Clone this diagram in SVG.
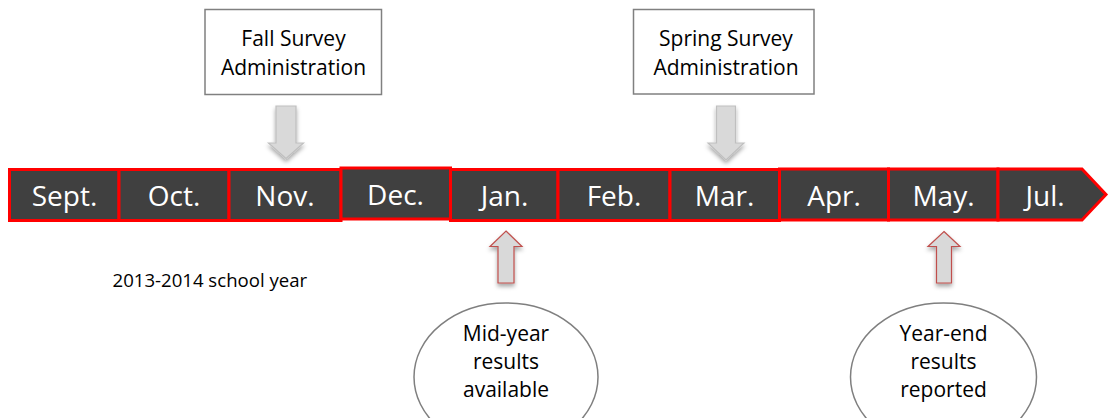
<svg xmlns="http://www.w3.org/2000/svg" width="1115" height="418" viewBox="0 0 1115 418">
  <style>
    .month { fill: #404040; stroke: #ff0000; stroke-width: 3; }
    .mlabel { font-family: "Open Sans", "Liberation Sans", sans-serif; font-size: 28px; fill: #ffffff; text-anchor: middle; }
    .box { fill: #ffffff; stroke: #808080; stroke-width: 1.5; }
    .oval { fill: #ffffff; stroke: #7f7f7f; stroke-width: 1.5; }
    .label { font-family: "Open Sans", "Liberation Sans", sans-serif; font-size: 21px; fill: #000000; text-anchor: middle; }
    .note { font-family: "Open Sans", "Liberation Sans", sans-serif; font-size: 18.6px; fill: #000000; }
    .down { fill: #d9d9d9; stroke: #bfbfbf; stroke-width: 1.2; filter: url(#shadow); }
    .up { fill: #d9d9d9; stroke: #c0504d; stroke-width: 1.2; filter: url(#shadow); }
  </style>
  <defs>
    <filter id="shadow" x="-40%" y="-30%" width="180%" height="170%">
      <feDropShadow dx="0" dy="3" stdDeviation="2" flood-color="#000000" flood-opacity="0.35"/>
    </filter>
  </defs>

  <rect width="1115" height="418" fill="#ffffff"/>

  <!-- timeline band: one segment per month -->
  <g id="timeline">
    <g id="m-sept"><rect class="month" x="9.5" y="169.5" width="109.5" height="51"/><text class="mlabel" x="64.5" y="205.5">Sept.</text></g>
    <g id="m-oct"><rect class="month" x="119" y="169.5" width="110" height="51"/><text class="mlabel" x="174" y="205.5">Oct.</text></g>
    <g id="m-nov"><rect class="month" x="229" y="169.5" width="112" height="51"/><text class="mlabel" x="285" y="205.5">Nov.</text></g>
    <g id="m-dec"><rect class="month" x="341" y="168" width="109.5" height="51"/><text class="mlabel" x="395.5" y="204.5">Dec.</text></g>
    <g id="m-jan"><rect class="month" x="450.5" y="169.5" width="107.5" height="51"/><text class="mlabel" x="504.5" y="205.5">Jan.</text></g>
    <g id="m-feb"><rect class="month" x="558" y="169.5" width="112" height="51"/><text class="mlabel" x="614" y="205.5">Feb.</text></g>
    <g id="m-mar"><rect class="month" x="670" y="169.5" width="109.5" height="51"/><text class="mlabel" x="724.5" y="205.5">Mar.</text></g>
    <g id="m-apr"><rect class="month" x="779.5" y="169" width="109" height="51"/><text class="mlabel" x="834" y="205.5">Apr.</text></g>
    <g id="m-may"><rect class="month" x="888.5" y="169" width="109.5" height="51"/><text class="mlabel" x="943.5" y="205.5">May.</text></g>
    <g id="m-jul"><polygon class="month" points="998,169 1082,169 1106,194.5 1082,220 998,220"/><text class="mlabel" x="1045" y="205.5">Jul.</text></g>
  </g>

  <!-- survey boxes above the band -->
  <g id="fall-survey">
    <rect class="box" x="205" y="9.5" width="176.5" height="85"/>
    <text class="label" x="293.5" y="46">Fall Survey</text>
    <text class="label" x="293.5" y="75">Administration</text>
  </g>
  <g id="spring-survey">
    <rect class="box" x="633.5" y="9.5" width="180.5" height="84.5"/>
    <text class="label" x="726" y="46">Spring Survey</text>
    <text class="label" x="726" y="75">Administration</text>
  </g>

  <!-- result ovals below the band -->
  <g id="mid-year">
    <ellipse class="oval" cx="506" cy="377" rx="92" ry="74"/>
    <text class="label" x="506" y="341">Mid-year</text>
    <text class="label" x="506" y="368.5">results</text>
    <text class="label" x="506" y="397">available</text>
  </g>
  <g id="year-end">
    <ellipse class="oval" cx="943.5" cy="377" rx="93" ry="74"/>
    <text class="label" x="943.5" y="341">Year-end</text>
    <text class="label" x="943.5" y="368.5">results</text>
    <text class="label" x="943.5" y="397">reported</text>
  </g>

  <g id="school-year">
    <text class="note" x="112.5" y="286.5">2013-2014 school year</text>
  </g>

  <!-- block arrows linking boxes and ovals to the band -->
  <g id="connectors">
    <path class="down" d="M276,106 H296 V143 H303.5 L286,158.5 L268.5,143 H276 Z"/>
    <path class="down" d="M716.5,106 H735.5 V143 H744 L726,160 L708,143 H716.5 Z"/>
    <path class="up" d="M506,231 L522,246.5 H514 V283 H498 V246.5 H490 Z"/>
    <path class="up" d="M944,231.5 L960,246.5 H951.5 V283 H936.5 V246.5 H928 Z"/>
  </g>
</svg>
